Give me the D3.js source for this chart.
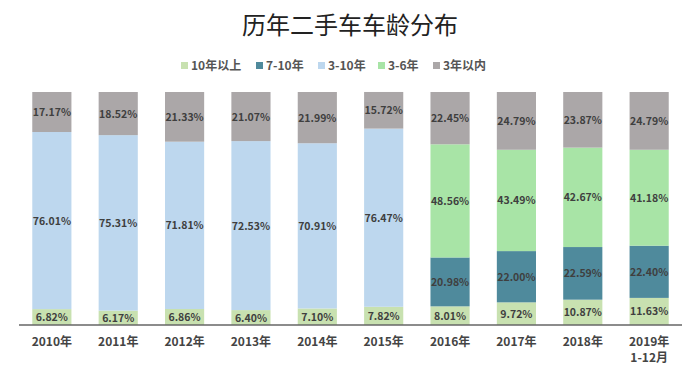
<!DOCTYPE html>
<html>
<head>
<meta charset="utf-8">
<script src="https://cdn.jsdelivr.net/npm/d3@7"></script>
<style>
  body { margin: 0; background: #fff; }
  svg { display: block; font-family: "Noto Sans CJK SC", "DejaVu Sans", sans-serif; }
</style>
</head>
<body>
<div id="chart"></div>
<script>
'use strict'

const years = ['2010年', '2011年', '2012年', '2013年', '2014年', '2015年', '2016年', '2017年', '2018年', '2019年\n1-12月']
const seriesNames = ['10年以上', '7-10年', '3-10年', '3-6年', '3年以内']
const over10 = [6.82, 6.17, 6.86, 6.40, 7.10, 7.82, 8.01, 9.72, 10.87, 11.63]
const y7to10 = [0, 0, 0, 0, 0, 0, 20.98, 22.00, 22.59, 22.40]
const y3to10 = [76.01, 75.31, 71.81, 72.53, 70.91, 76.47, 0, 0, 0, 0]
const y3to6 = [0, 0, 0, 0, 0, 0, 48.56, 43.49, 42.67, 41.18]
const within3 = [17.17, 18.52, 21.33, 21.07, 21.99, 15.72, 22.45, 24.79, 23.87, 24.79]
const colors = ['#c8e1b0', '#4f8a9c', '#bdd7ee', '#a8e4a6', '#aba7a8']

const width = 700
const height = 368
const margin = { top: 92, right: 18, bottom: 43, left: 19 }

const rows = years.map(function (y, i) {
  return {
    year: y,
    '10年以上': over10[i],
    '7-10年': y7to10[i],
    '3-10年': y3to10[i],
    '3-6年': y3to6[i],
    '3年以内': within3[i]
  }
})

const svg = d3.select('#chart').append('svg')
  .attr('width', width)
  .attr('height', height)

svg.append('text')
  .attr('x', width / 2)
  .attr('y', 34)
  .attr('text-anchor', 'middle')
  .attr('font-size', 24)
  .attr('fill', '#222')
  .text('历年二手车车龄分布')

// legend
const legendX = [181, 256, 318, 378, 433]
const legend = svg.append('g')
seriesNames.forEach(function (name, i) {
  const g = legend.append('g').attr('transform', 'translate(' + legendX[i] + ',66)')
  g.append('rect').attr('x', 0).attr('y', -4).attr('width', 7).attr('height', 7).attr('fill', colors[i])
  g.append('text')
    .attr('x', 10)
    .attr('y', 4)
    .attr('font-size', 12)
    .attr('font-weight', 'bold')
    .attr('fill', '#555')
    .text(name)
})

const x = d3.scaleBand()
  .domain(years)
  .range([margin.left, width - margin.right])
  .paddingInner(0.41)
  .paddingOuter(0.2)

const y = d3.scaleLinear()
  .domain([0, 100])
  .range([height - margin.bottom, margin.top])

const stack = d3.stack().keys(seriesNames)
const layers = stack(rows)

const groups = svg.append('g').selectAll('g')
  .data(layers)
  .enter()
  .append('g')
  .attr('fill', function (d, i) { return colors[i] })

groups.selectAll('rect')
  .data(function (d) { return d })
  .enter()
  .append('rect')
  .attr('x', function (d) { return x(d.data.year) })
  .attr('y', function (d) { return y(d[1]) })
  .attr('width', x.bandwidth())
  .attr('height', function (d) { return y(d[0]) - y(d[1]) })

groups.selectAll('text')
  .data(function (d) { return d.filter(function (p) { return p[1] - p[0] > 0 }) })
  .enter()
  .append('text')
  .attr('x', function (d) { return x(d.data.year) + x.bandwidth() / 2 })
  .attr('y', function (d) { return (y(d[0]) + y(d[1])) / 2 + 4 })
  .attr('text-anchor', 'middle')
  .attr('font-size', 10.5)
  .attr('font-weight', 'bold')
  .attr('fill', '#3f3f3f')
  .text(function (d) { return (d[1] - d[0]).toFixed(2) + '%' })

// axis
const axis = svg.append('g')
  .attr('transform', 'translate(0,' + (height - margin.bottom) + ')')
  .call(d3.axisBottom(x).tickSize(0).tickPadding(12))

axis.select('.domain').attr('stroke', '#666').attr('stroke-width', 1.5)
  .attr('d', 'M' + margin.left + ',0H' + (width - margin.right))

axis.selectAll('.tick text')
  .attr('font-size', 12)
  .attr('font-weight', 'bold')
  .attr('fill', '#444')
  .attr('font-family', '"Noto Sans CJK SC", sans-serif')
  .each(function (d) {
    const parts = d.split('\n')
    const t = d3.select(this).text(null)
    parts.forEach(function (p, i) {
      t.append('tspan').attr('x', 0).attr('dy', i === 0 ? '0.71em' : '1.35em').text(p)
    })
  })
</script>
</body>
</html>
